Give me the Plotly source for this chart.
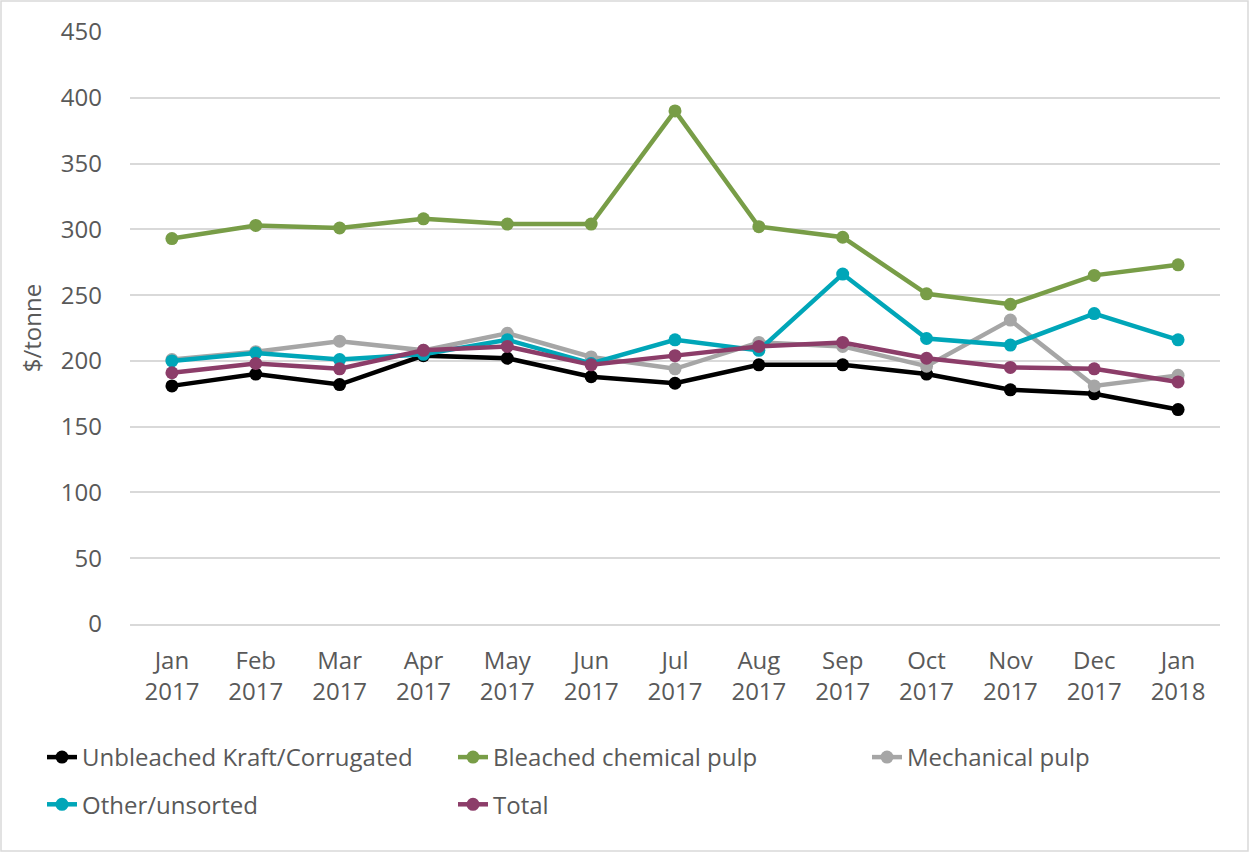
import plotly.graph_objects as go

months = ["Jan<br>2017", "Feb<br>2017", "Mar<br>2017", "Apr<br>2017", "May<br>2017", "Jun<br>2017",
          "Jul<br>2017", "Aug<br>2017", "Sep<br>2017", "Oct<br>2017", "Nov<br>2017", "Dec<br>2017", "Jan<br>2018"]

unbleached = [181, 190, 182, 204, 202, 188, 183, 197, 197, 190, 178, 175, 163]
bleached = [293, 303, 301, 308, 304, 304, 390, 302, 294, 251, 243, 265, 273]
mechanical = [201, 207, 215, 208, 221, 203, 194, 214, 211, 196, 231, 181, 189]
other = [200, 206, 201, 205, 216, 198, 216, 208, 266, 217, 212, 236, 216]
total = [191, 198, 194, 208, 211, 197, 204, 211, 214, 202, 195, 194, 184]

series = [
    ("Unbleached Kraft/Corrugated", unbleached, "#000000", "legend", "g1"),
    ("Bleached chemical pulp", bleached, "#789D47", "legend2", "g3"),
    ("Mechanical pulp", mechanical, "#A6A6A6", "legend3", "g5"),
    ("Other/unsorted", other, "#00A6B8", "legend", "g2"),
    ("Total", total, "#8C3D69", "legend2", "g4"),
]

font_family = "Open Sans, DejaVu Sans, sans-serif"
tcol = "#595959"
fs = 24

fig = go.Figure()
for name, vals, col, leg, grp in series:
    fig.add_trace(go.Scatter(
        x=months, y=vals, name=name, mode="lines+markers",
        line=dict(color=col, width=4.5),
        marker=dict(color=col, size=13),
        legend=leg, legendgroup=grp,
    ))

leg_common = dict(
    orientation="v", yanchor="top", xanchor="left",
    font=dict(family=font_family, size=fs, color=tcol),
    bgcolor="rgba(0,0,0,0)", tracegroupgap=13, traceorder="grouped",
)

ly = (624 - 735) / 592
fig.update_layout(
    width=1250, height=853,
    margin=dict(l=130, r=30, t=32, b=229),
    paper_bgcolor="white", plot_bgcolor="white",
    font=dict(family=font_family, size=fs, color=tcol),
    xaxis=dict(
        type="category", range=[-0.5, 12.5],
        showgrid=False, showline=True, linecolor="#D9D9D9", linewidth=1.5,
        ticks="", tickfont=dict(size=fs, color=tcol), ticklabelstandoff=14,
        fixedrange=True,
    ),
    yaxis=dict(
        range=[0, 450], tickvals=[0, 50, 100, 150, 200, 250, 300, 350, 400, 450],
        showgrid=True, gridcolor="#D9D9D9", gridwidth=1.5, zeroline=False,
        showline=False, ticks="", tickfont=dict(size=fs, color=tcol),
        ticklabelstandoff=27, fixedrange=True,
        title=dict(text="$/tonne", font=dict(size=fs, color=tcol), standoff=12),
    ),
    legend=dict(x=(42 - 130) / 1090, y=ly, **leg_common),
    legend2=dict(x=(453 - 130) / 1090, y=ly, **leg_common),
    legend3=dict(x=(867 - 130) / 1090, y=ly, **leg_common),
    shapes=[dict(type="rect", xref="paper", yref="paper",
                 x0=(1 - 130) / 1090, x1=(1248 - 130) / 1090,
                 y0=(624 - 851) / 592, y1=(624 - 1) / 592,
                 line=dict(color="#D9D9D9", width=1.5), fillcolor="rgba(0,0,0,0)", layer="below")],
)

fig.write_html("out.html", config={"displayModeBar": False},
               post_script="document.body.style.margin='0';document.body.style.overflow='hidden';")
